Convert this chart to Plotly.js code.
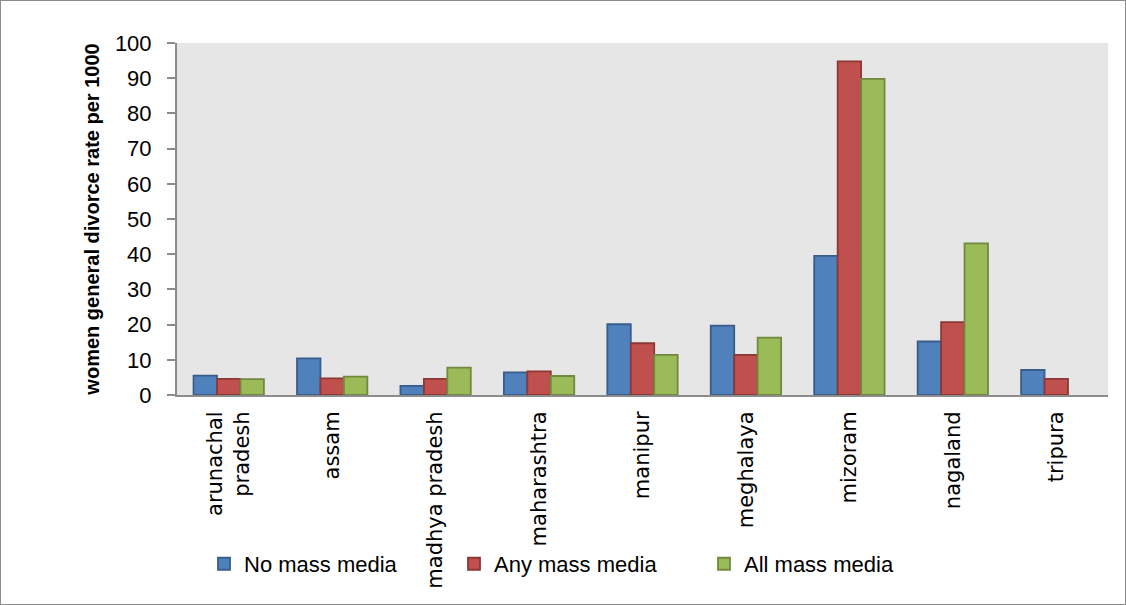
<!DOCTYPE html>
<html>
<head>
<meta charset="utf-8">
<script src="https://cdn.plot.ly/plotly-3.0.1.min.js"></script>
<style>
html,body{margin:0;padding:0;background:#fff;}
#chart{width:1124px;height:603px;border:1px solid #8c8c8c;}
</style>
</head>
<body>
<div id="chart"></div>
<script>
const categories = ["arunachal<br>pradesh","assam","madhya pradesh","maharashtra","manipur","meghalaya","mizoram","nagaland","tripura"];
const noMassMedia  = [5.5, 10.4, 2.6, 6.4, 20.1, 19.7, 39.5, 15.2, 7.1];
const anyMassMedia = [4.6, 4.7, 4.6, 6.7, 14.7, 11.4, 94.8, 20.7, 4.6];
const allMassMedia = [4.5, 5.2, 7.8, 5.4, 11.4, 16.3, 89.8, 43.1, null];
const seriesNames = ["No mass media","Any mass media","All mass media"];
const yTicks = [0,10,20,30,40,50,60,70,80,90,100];

const fills = ["#4F81BD","#C0504D","#9BBB59"];
const edges = ["#385D8A","#8C3836","#71893F"];
const vals = [noMassMedia, anyMassMedia, allMassMedia];

const data = vals.map((v,i)=>({
  type:"bar", x:categories, y:v, name:seriesNames[i],
  marker:{color:fills[i], line:{color:edges[i], width:1.8}}
}));

const layout = {
  width:1124, height:603,
  margin:{l:176, r:17, t:42, b:209},
  paper_bgcolor:"#ffffff", plot_bgcolor:"#e6e6e6",
  barmode:"group", bargap:0.32, bargroupgap:0,
  font:{family:"Liberation Sans, Arial, sans-serif", color:"#000"},
  xaxis:{
    type:"category", tickangle:-90,
    ticks:"", ticklabelstandoff:6,
    showline:true, linecolor:"#8c8c8c", linewidth:2,
    tickfont:{family:"DejaVu Sans, Verdana, sans-serif", size:21, color:"#000"},
    showgrid:false, zeroline:false
  },
  yaxis:{
    range:[0,100], tickvals:yTicks, ticktext:yTicks.map(String),
    ticks:"outside", ticklen:8, tickcolor:"#8c8c8c", tickwidth:2,
    ticklabelstandoff:11,
    showline:true, linecolor:"#8c8c8c", linewidth:2,
    showgrid:false, zeroline:false,
    tickfont:{size:22, color:"#000"},
    title:{text:"women general divorce rate per 1000", font:{size:20, weight:"bold", color:"#000"}, standoff:10}
  },
  legend:{
    orientation:"h", x:0.029, xanchor:"left", y:-0.48, yanchor:"middle",
    font:{family:"Liberation Sans, Arial, sans-serif", size:22, color:"#000"},
    itemwidth:30, entrywidth:205, entrywidthmode:"pixels", tracegroupgap:0,
    bgcolor:"rgba(0,0,0,0)"
  },
  showlegend:true
};

Plotly.newPlot("chart", data, layout, {displayModeBar:false, staticPlot:true});
</script>
</body>
</html>
